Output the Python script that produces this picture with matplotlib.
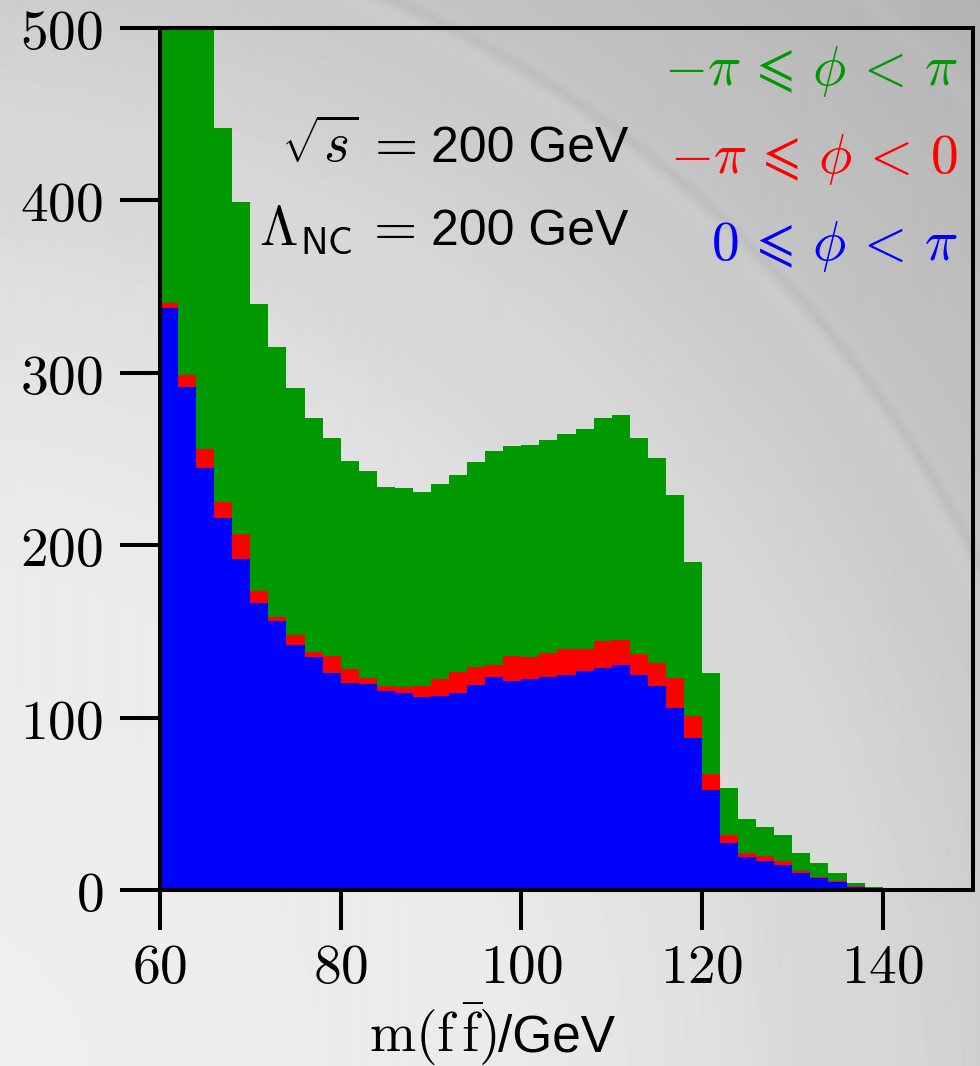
import numpy as np
import matplotlib
matplotlib.use("Agg")
import matplotlib.pyplot as plt

plt.rcParams['mathtext.fontset'] = 'cm'

# m(ff~) histogram, 2 GeV bins from 60 to 142 GeV
edges = np.arange(60, 143, 2)
total = [678, 591, 501, 442, 399, 340, 315, 291, 274, 262,
         249, 243, 234, 233, 231, 235.5, 241, 248.5, 254.6, 257.5,
         258, 261, 264.5, 267.6, 273.6, 275.7, 262, 250.4, 229, 190,
         126, 59, 41, 36.5, 32, 21.7, 15.5, 9.7, 4.2, 1.5, 1.1]
phi_neg = [340.5, 298.7, 255.6, 225.3, 206.3, 173.4, 158.3, 147.9, 138.2, 135.9,
           128.3, 123.1, 118.5, 118, 118.3, 122.4, 126.6, 129.2, 130.5, 135.7,
           134.9, 137.2, 139.6, 140, 144.2, 144.8, 137, 131.7, 123, 101,
           67.5, 31.7, 21.2, 19.7, 16.8, 11.2, 7.7, 5.0, 2.3, 0.8, 0.6]
phi_pos = [337.4, 292, 244.5, 216, 191.8, 166.2, 156, 142.1, 134.9, 125.7,
           120.2, 119.5, 115.6, 114.4, 112, 112.7, 114, 118.9, 123.7, 121.4,
           122.4, 123.7, 124.7, 127.2, 128.9, 130.3, 124.7, 118.3, 105.8, 88.3,
           58, 27, 19.3, 16.8, 14.5, 10, 7.1, 4.4, 1.7, 0.7, 0.5]

xticks = [60, 80, 100, 120, 140]
yticks = [0, 100, 200, 300, 400, 500]

green = '#009900'
red = '#ff0000'
blue = '#0000ff'

W, H = 980, 1066
fig = plt.figure(figsize=(W / 100, H / 100), dpi=100)

# grey slide-style backdrop with a few faint arcs
yy, xx = np.mgrid[0:H, 0:W].astype(float)
r = np.hypot(xx + 100, yy - 1100)
bg = np.interp(r, [0, 600, 1000, 1250, 1600], [0.94, 0.92, 0.84, 0.76, 0.69])
bg -= 0.035 * np.exp(-((r - 1205) / 6) ** 2)
bg += 0.015 * np.exp(-((r - 1190) / 18) ** 2)
bg += 0.015 * np.exp(-((r - 1465) / 10) ** 2)
bg -= 0.012 * np.exp(-((r - 900) / 40) ** 2)
bax = fig.add_axes([0, 0, 1, 1], zorder=-10)
bax.imshow(bg, cmap='gray', vmin=0, vmax=1, aspect='auto',
           extent=(0, W, H, 0), interpolation='bilinear')
bax.axis('off')

ax = fig.add_axes([160 / W, 1 - 890 / H, 813 / W, 862 / H])
ax.set_facecolor('none')

ax.stairs(total, edges, fill=True, color=green, lw=0)
ax.stairs(phi_neg, edges, fill=True, color=red, lw=0)
ax.stairs(phi_pos, edges, fill=True, color=blue, lw=0)

ax.set_xlim(60, 150)
ax.set_ylim(0, 500)
ax.set_xticks(xticks, labels=[f'${v}$' for v in xticks])
ax.set_yticks(yticks, labels=[f'${v}$' for v in yticks])
ax.tick_params(direction='out', length=29, width=2.9, labelsize=40, color='black')
ax.tick_params(axis='y', pad=12)
ax.tick_params(axis='x', pad=8)
for s in ax.spines.values():
    s.set_linewidth(2.9)


def fx(px):
    return px / W


def fy(py):
    return 1 - py / H


# parameter block
for base, lab in [(162, r'$\sqrt{s}\/=$'), (245, r'$\Lambda_{\mathsf{NC}}\/=$')]:
    fig.text(fx(416), fy(base), lab, fontsize=40, ha='right', va='baseline')
    fig.text(fx(628), fy(base), '200 GeV', fontsize=36, family='Liberation Sans',
             ha='right', va='baseline')

# colour key
key = [(85, r'$-\pi\,\leqslant\,\phi\,<\,\pi$', green),
       (173, r'$-\pi\,\leqslant\,\phi\,<\,0$', red),
       (260, r'$0\,\leqslant\,\phi\,<\,\pi$', blue)]
for base, lab, c in key:
    fig.text(fx(958), fy(base), lab, fontsize=40, color=c, ha='right', va='baseline')

# axis title
fig.text(fx(497), fy(1052), r'$\mathrm{m}(\mathrm{f}\,\bar{\mathrm{f}})$', fontsize=40,
         ha='right', va='baseline')
fig.text(fx(498), fy(1052), '/GeV', fontsize=37, family='Liberation Sans',
         ha='left', va='baseline')

fig.savefig('out.png', dpi=100)
